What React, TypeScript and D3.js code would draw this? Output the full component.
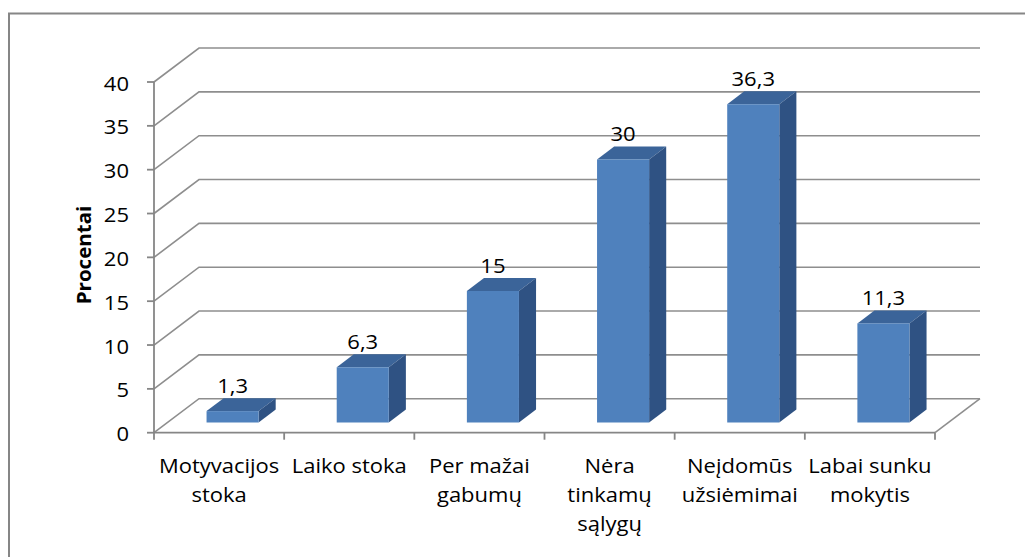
import React from "react";
import * as d3 from "d3";

const categories: string[][] = [
  ["Motyvacijos", "stoka"],
  ["Laiko stoka"],
  ["Per mažai", "gabumų"],
  ["Nėra", "tinkamų", "sąlygų"],
  ["Neįdomūs", "užsiėmimai"],
  ["Labai sunku", "mokytis"],
];
const values: number[] = [1.3, 6.3, 15, 30, 36.3, 11.3];
const valueLabels: string[] = ["1,3", "6,3", "15", "30", "36,3", "11,3"];
const yTicks: number[] = [0, 5, 10, 15, 20, 25, 30, 35, 40];
const yTitle = "Procentai";

const W = 1025;
const H = 557;
const FONT = "'Open Sans', sans-serif";
const DX = 45;
const DY = -34;
const GRID = "#8e8e8e";
const AXIS = "#868686";
const FRONT = "#4f81bd";
const TOP = "#3b6499";
const SIDE = "#2f5283";

export default function App() {
  const keys = categories.map((c) => c.join(" "));
  const x = d3.scaleBand<string>().domain(keys).range([154, 935]).padding(0);
  const y = d3.scaleLinear().domain([0, 40]).range([432.7, 82]);
  const bw = x.bandwidth();
  const barW = bw * 0.4;
  const f0 = 0.3;
  const depth = 0.38;
  const x0 = 154;
  const x1 = 935;

  const line = (pts: [number, number][]) => d3.line()(pts) as string;

  return (
    <svg
      width={W}
      height={H}
      style={{ position: "absolute", left: 0, top: 0, background: "#fff" }}
    >
      {/* outer frame */}
      <rect x={9} y={13.5} width={W + 20} height={H + 20} fill="none" stroke={AXIS} strokeWidth={2} />

      {/* back wall gridlines and left wall diagonals */}
      {yTicks.map((t) => (
        <g key={"g" + t}>
          <path
            d={line([
              [x0, y(t)],
              [x0 + DX, y(t) + DY],
              [x1 + DX, y(t) + DY],
            ])}
            fill="none"
            stroke={GRID}
            strokeWidth={1.6}
          />
        </g>
      ))}
      {/* floor */}
      <path
        d={line([
          [x1, y(0)],
          [x1 + DX, y(0) + DY],
        ])}
        fill="none"
        stroke={GRID}
        strokeWidth={1.6}
      />
      <line x1={x0} x2={x1} y1={y(0)} y2={y(0)} stroke={AXIS} strokeWidth={1.8} />
      {/* y axis */}
      <line x1={x0} x2={x0} y1={y(40)} y2={y(0)} stroke={AXIS} strokeWidth={1.8} />
      {yTicks.map((t) => (
        <g key={"t" + t}>
          <line x1={x0 - 7} x2={x0} y1={y(t)} y2={y(t)} stroke={AXIS} strokeWidth={1.8} />
          <text
            transform={`translate(129,${y(t) + 8.5}) scale(1.1,1)`}
            textAnchor="end"
            fontFamily={FONT}
            fontSize={20}
            fill="#000"
          >
            {t}
          </text>
        </g>
      ))}
      {/* category ticks */}
      {[...keys.map((k) => x(k) as number), x1].map((px, i) => (
        <line key={"c" + i} x1={px} x2={px} y1={y(0)} y2={y(0) + 7} stroke={AXIS} strokeWidth={1.8} />
      ))}

      {/* bars */}
      {keys.map((k, i) => {
        const cx = (x(k) as number) + bw / 2;
        const fl = cx + f0 * DX - barW / 2;
        const fr = fl + barW;
        const fb = y(0) + f0 * DY;
        const ft = y(values[i]) + f0 * DY;
        const ddx = depth * DX;
        const ddy = depth * DY;
        return (
          <g key={"b" + i}>
            <path
              d={line([
                [fl, ft],
                [fl + ddx, ft + ddy],
                [fr + ddx, ft + ddy],
                [fr, ft],
              ]) + "Z"}
              fill={TOP}
            />
            <path
              d={line([
                [fr, ft],
                [fr + ddx, ft + ddy],
                [fr + ddx, fb + ddy],
                [fr, fb],
              ]) + "Z"}
              fill={SIDE}
            />
            <rect x={fl} y={ft} width={barW} height={fb - ft} fill={FRONT} />
            <text
              transform={`translate(${(fl + fr) / 2},${ft - 18}) scale(1.1,1)`}
              textAnchor="middle"
              fontFamily={FONT}
              fontSize={20}
              fill="#000"
            >
              {valueLabels[i]}
            </text>
          </g>
        );
      })}

      {/* category labels */}
      {categories.map((lines, i) => {
        const cx = (x(keys[i]) as number) + bw / 2;
        return (
          <g key={"l" + i}>
            {lines.map((s, j) => (
              <text
                key={j}
                transform={`translate(${cx},${473 + j * 29}) scale(1.1,1)`}
                textAnchor="middle"
                fontFamily={FONT}
                fontSize={20}
                fill="#000"
              >
                {s}
              </text>
            ))}
          </g>
        );
      })}

      {/* y title */}
      <text
        transform={`translate(91,255) rotate(-90) scale(1.08,1)`}
        textAnchor="middle"
        fontFamily={FONT}
        fontSize={19}
        fontWeight="bold"
        fill="#000"
      >
        {yTitle}
      </text>
    </svg>
  );
}
